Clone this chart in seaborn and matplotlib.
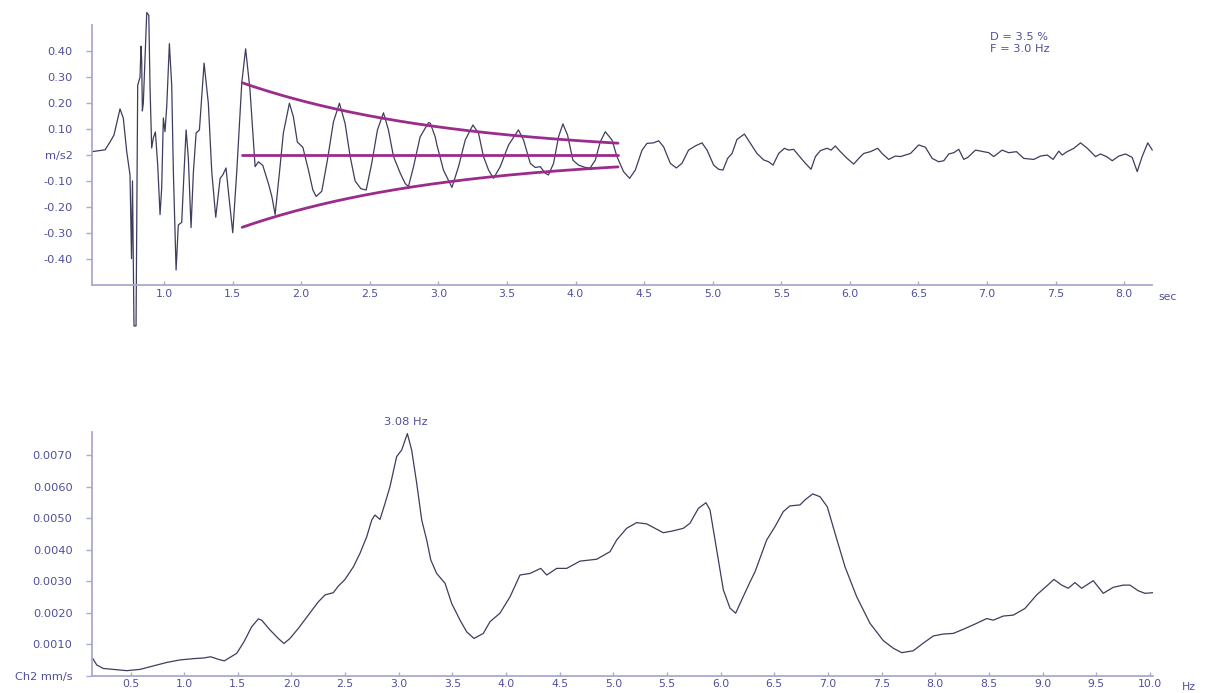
import numpy as np
import pandas as pd
import matplotlib
matplotlib.use("Agg")
import matplotlib.pyplot as plt
import seaborn as sns

# ---- free-vibration record (acceleration, m/s2) ----
time_s = [0.475, 0.570, 0.606, 0.635, 0.679, 0.703, 0.728, 0.752, 0.763, 0.770,
          0.781, 0.796, 0.808, 0.825, 0.832, 0.837, 0.842, 0.849, 0.862, 0.874,
          0.889, 0.898, 0.910, 0.922, 0.937, 0.954, 0.971, 0.983, 0.995, 1.007,
          1.020, 1.039, 1.056, 1.068, 1.088, 1.104, 1.129, 1.146, 1.161, 1.177,
          1.197, 1.214, 1.234, 1.258, 1.292, 1.323, 1.348, 1.377, 1.409, 1.428,
          1.452, 1.469, 1.501, 1.530, 1.567, 1.595, 1.627, 1.664, 1.688, 1.720,
          1.761, 1.786, 1.810, 1.841, 1.870, 1.914, 1.943, 1.972, 2.012, 2.053,
          2.085, 2.109, 2.150, 2.191, 2.235, 2.279, 2.320, 2.357, 2.393, 2.435,
          2.474, 2.515, 2.556, 2.600, 2.636, 2.673, 2.722, 2.758, 2.782, 2.819,
          2.867, 2.928, 2.941, 2.977, 2.989, 3.037, 3.099, 3.147, 3.196, 3.252,
          3.293, 3.329, 3.366, 3.402, 3.451, 3.512, 3.584, 3.621, 3.670, 3.706,
          3.743, 3.779, 3.803, 3.840, 3.876, 3.908, 3.942, 3.981, 4.022, 4.071,
          4.107, 4.144, 4.180, 4.217, 4.266, 4.302, 4.350, 4.394, 4.436, 4.485,
          4.521, 4.569, 4.606, 4.642, 4.691, 4.735, 4.776, 4.824, 4.873, 4.922,
          4.959, 5.007, 5.043, 5.075, 5.109, 5.141, 5.177, 5.231, 5.275, 5.323,
          5.372, 5.408, 5.440, 5.481, 5.523, 5.554, 5.590, 5.634, 5.676, 5.717,
          5.749, 5.785, 5.834, 5.863, 5.894, 5.931, 5.980, 6.028, 6.065, 6.101,
          6.150, 6.203, 6.235, 6.283, 6.332, 6.369, 6.442, 6.502, 6.551, 6.600,
          6.648, 6.685, 6.721, 6.758, 6.794, 6.831, 6.860, 6.916, 6.976, 7.013,
          7.049, 7.110, 7.158, 7.215, 7.268, 7.341, 7.390, 7.439, 7.482, 7.523,
          7.548, 7.584, 7.633, 7.682, 7.731, 7.791, 7.827, 7.871, 7.913, 7.961,
          8.010, 8.058, 8.095, 8.131, 8.172, 8.205]
accel = [0.013, 0.020, 0.050, 0.077, 0.178, 0.143, 0.013, -0.077, -0.400, -0.100,
         -0.660, -0.660, 0.270, 0.300, 0.420, 0.370, 0.170, 0.200, 0.386, 0.550,
         0.540, 0.260, 0.027, 0.066, 0.089, -0.040, -0.230, -0.127, 0.143, 0.090,
         0.190, 0.430, 0.270, -0.065, -0.444, -0.270, -0.260, -0.065, 0.097, -0.010,
         -0.280, -0.066, 0.085, 0.097, 0.355, 0.200, -0.065, -0.240, -0.090, -0.077,
         -0.050, -0.140, -0.300, -0.066, 0.280, 0.410, 0.250, -0.045, -0.026, -0.040,
         -0.110, -0.160, -0.230, -0.070, 0.085, 0.200, 0.148, 0.050, 0.030, -0.058,
         -0.135, -0.160, -0.140, -0.020, 0.128, 0.200, 0.122, -0.006, -0.100, -0.130,
         -0.135, -0.030, 0.097, 0.163, 0.097, -0.006, -0.070, -0.110, -0.122, -0.045,
         0.070, 0.125, 0.123, 0.070, 0.040, -0.058, -0.125, -0.045, 0.058, 0.116,
         0.084, -0.006, -0.058, -0.090, -0.045, 0.039, 0.097, 0.058, -0.032, -0.048,
         -0.045, -0.070, -0.077, -0.032, 0.070, 0.120, 0.077, -0.020, -0.039, -0.048,
         -0.050, -0.020, 0.050, 0.090, 0.058, -0.006, -0.064, -0.090, -0.058, 0.019,
         0.045, 0.047, 0.055, 0.032, -0.032, -0.050, -0.032, 0.019, 0.035, 0.047,
         0.019, -0.039, -0.055, -0.058, -0.013, 0.006, 0.060, 0.081, 0.045, 0.006,
         -0.019, -0.026, -0.039, 0.006, 0.026, 0.019, 0.022, -0.006, -0.032, -0.055,
         -0.006, 0.017, 0.026, 0.019, 0.035, 0.013, -0.013, -0.035, -0.013, 0.006,
         0.013, 0.026, 0.006, -0.017, -0.004, -0.006, 0.006, 0.039, 0.030, -0.013,
         -0.026, -0.022, 0.004, 0.009, 0.022, -0.017, -0.009, 0.019, 0.013, 0.009,
         -0.006, 0.019, 0.009, 0.013, -0.013, -0.017, -0.004, 0.000, -0.017, 0.015,
         0.000, 0.013, 0.026, 0.047, 0.026, -0.006, 0.004, -0.006, -0.022, -0.004,
         0.004, -0.009, -0.064, -0.006, 0.047, 0.019]

# ---- damping fit parameters ----
damping_ratio = 0.035      # D = 3.5 %
natural_freq = 3.0         # F = 3.0 Hz
fit_start, fit_end = 1.57, 4.31
fit_amp0 = 0.279

# ---- amplitude spectrum (Ch2, mm/s) ----
freq_hz = [0.147, 0.185, 0.246, 0.340, 0.464, 0.588, 0.712, 0.837, 0.961, 1.085,
           1.178, 1.247, 1.318, 1.374, 1.427, 1.490, 1.558, 1.629, 1.691, 1.722,
           1.800, 1.877, 1.930, 1.986, 2.064, 2.157, 2.250, 2.313, 2.390, 2.437,
           2.499, 2.577, 2.639, 2.701, 2.748, 2.778, 2.825, 2.872, 2.918, 2.980,
           3.027, 3.080, 3.120, 3.167, 3.214, 3.260, 3.298, 3.353, 3.431, 3.493,
           3.571, 3.633, 3.701, 3.788, 3.850, 3.943, 4.037, 4.130, 4.223, 4.323,
           4.379, 4.472, 4.565, 4.689, 4.845, 4.969, 5.031, 5.124, 5.217, 5.310,
           5.388, 5.465, 5.558, 5.652, 5.714, 5.792, 5.863, 5.901, 5.963, 6.025,
           6.087, 6.140, 6.196, 6.275, 6.320, 6.429, 6.506, 6.584, 6.646, 6.739,
           6.786, 6.858, 6.926, 6.994, 7.066, 7.159, 7.268, 7.392, 7.516, 7.609,
           7.687, 7.795, 7.888, 7.982, 8.075, 8.168, 8.261, 8.386, 8.479, 8.541,
           8.634, 8.727, 8.836, 8.945, 9.032, 9.106, 9.178, 9.240, 9.302, 9.364,
           9.473, 9.566, 9.659, 9.752, 9.815, 9.892, 9.955, 10.030]
spectrum = [0.56, 0.35, 0.24, 0.21, 0.17, 0.21, 0.32, 0.43, 0.51, 0.55,
            0.57, 0.61, 0.53, 0.48, 0.59, 0.72, 1.09, 1.56, 1.81, 1.77,
            1.46, 1.19, 1.03, 1.19, 1.51, 1.93, 2.35, 2.57, 2.64, 2.85,
            3.06, 3.46, 3.89, 4.41, 4.94, 5.10, 4.96, 5.47, 6.00, 6.95,
            7.16, 7.68, 7.16, 6.11, 4.94, 4.31, 3.68, 3.25, 2.94, 2.30,
            1.77, 1.40, 1.19, 1.35, 1.72, 1.99, 2.51, 3.20, 3.25, 3.41,
            3.20, 3.41, 3.41, 3.64, 3.70, 3.94, 4.31, 4.68, 4.86, 4.82,
            4.68, 4.54, 4.60, 4.68, 4.84, 5.31, 5.49, 5.26, 3.99, 2.73,
            2.15, 1.99, 2.41, 2.99, 3.30, 4.31, 4.73, 5.21, 5.39, 5.42,
            5.58, 5.77, 5.68, 5.36, 4.52, 3.46, 2.51, 1.67, 1.12, 0.88,
            0.74, 0.80, 1.04, 1.27, 1.33, 1.35, 1.48, 1.67, 1.82, 1.77,
            1.90, 1.93, 2.14, 2.57, 2.83, 3.06, 2.88, 2.78, 2.96, 2.78,
            3.02, 2.62, 2.81, 2.88, 2.88, 2.70, 2.62, 2.64]
peak_freq = 3.08
peak_value = 7.68e-3

top_ticks = [1.0, 1.5, 2.0, 2.5, 3.0, 3.5, 4.0, 4.5, 5.0, 5.5, 6.0, 6.5, 7.0, 7.5, 8.0]
top_yticks = [-0.4, -0.3, -0.2, -0.1, 0.0, 0.1, 0.2, 0.3, 0.4]
bot_ticks = [0.5, 1.0, 1.5, 2.0, 2.5, 3.0, 3.5, 4.0, 4.5, 5.0, 5.5, 6.0, 6.5, 7.0,
             7.5, 8.0, 8.5, 9.0, 9.5, 10.0]
bot_yticks = [0.0, 0.001, 0.002, 0.003, 0.004, 0.005, 0.006, 0.007]

sns.set_theme(style="white")
plt.rcParams["font.family"] = ["DejaVu Sans"]

AXIS_COL = "#a9a9d2"
LABEL_COL = "#4f4f9c"
TRACE_COL = "#3d3d5e"
FIT_COL = "#9b2c8c"
FS = 8.2
FSX = 7.8

fig = plt.figure(figsize=(12.06, 6.93), dpi=100)
ax1 = fig.add_axes([0.0763, 0.5887, 0.8786, 0.3752])
ax2 = fig.add_axes([0.0763, 0.0245, 0.8798, 0.3521])


def style_axis(ax):
    for side in ("top", "right"):
        ax.spines[side].set_visible(False)
    for side in ("left", "bottom"):
        ax.spines[side].set_color(AXIS_COL)
        ax.spines[side].set_linewidth(1.3)
    ax.tick_params(axis="y", direction="out", length=4, width=1, color=AXIS_COL,
                   labelcolor=LABEL_COL, labelsize=FS, pad=10, left=True)
    ax.tick_params(axis="x", direction="in", length=3, width=1, color=AXIS_COL,
                   labelcolor=LABEL_COL, labelsize=FSX, pad=2.5, bottom=True)
    ax.grid(False)
    ax.set_xlabel("")
    ax.set_ylabel("")


# ---- top: decaying vibration with exponential envelope ----
rec = pd.DataFrame({"t": time_s, "a": accel})
sns.lineplot(data=rec, x="t", y="a", ax=ax1, sort=False, estimator=None,
             color=TRACE_COL, linewidth=0.9)
for ln in ax1.lines:
    ln.set_clip_on(False)

t_fit = np.linspace(fit_start, fit_end, 200)
decay = fit_amp0 * np.exp(-damping_ratio * 2 * np.pi * natural_freq * (t_fit - fit_start))
env = pd.DataFrame({"t": np.concatenate([t_fit, t_fit, t_fit]),
                    "v": np.concatenate([decay, -decay, np.zeros_like(t_fit)]),
                    "k": ["upper"] * len(t_fit) + ["lower"] * len(t_fit) + ["mid"] * len(t_fit)})
sns.lineplot(data=env, x="t", y="v", units="k", estimator=None, ax=ax1,
             color=FIT_COL, linewidth=2.0)

ax1.set_xlim(0.475, 8.20)
ax1.set_ylim(-0.502, 0.502)
ax1.set_xticks(top_ticks)
ax1.set_xticklabels([f"{v:.1f}" for v in top_ticks])
ax1.set_yticks(top_yticks)
ax1.set_yticklabels(["m/s2" if v == 0 else f"{v:.2f}" for v in top_yticks])
style_axis(ax1)
ax1.text(1.006, -0.046, "sec", transform=ax1.transAxes, ha="left", va="center",
         color=LABEL_COL, fontsize=FSX)
ax1.text(7.02, 0.456, f"D = {damping_ratio * 100:.1f} %", ha="left", va="center",
         color=LABEL_COL, fontsize=FS)
ax1.text(7.02, 0.409, f"F = {natural_freq:.1f} Hz", ha="left", va="center",
         color=LABEL_COL, fontsize=FS)

# ---- bottom: spectrum ----
spec = pd.DataFrame({"f": freq_hz, "s": np.array(spectrum) * 1e-3})
sns.lineplot(data=spec, x="f", y="s", ax=ax2, sort=False, estimator=None,
             color=TRACE_COL, linewidth=0.9)
ax2.set_xlim(0.141, 10.03)
ax2.set_ylim(0.0, 0.00773)
ax2.set_xticks(bot_ticks)
ax2.set_xticklabels([f"{v:.1f}" for v in bot_ticks])
ax2.set_yticks(bot_yticks)
ax2.set_yticklabels(["Ch2 mm/s" if v == 0 else f"{v:.4f}" for v in bot_yticks])
style_axis(ax2)
ax2.annotate(f"{peak_freq:.2f} Hz", xy=(peak_freq, peak_value), xytext=(-1, 8.5),
             textcoords="offset points", ha="center", va="center",
             color=LABEL_COL, fontsize=FS, annotation_clip=False)
ax2.text(1.027, -0.046, "Hz", transform=ax2.transAxes, ha="left", va="center",
         color=LABEL_COL, fontsize=FSX)

fig.savefig("out.png", dpi=100, facecolor="white")
